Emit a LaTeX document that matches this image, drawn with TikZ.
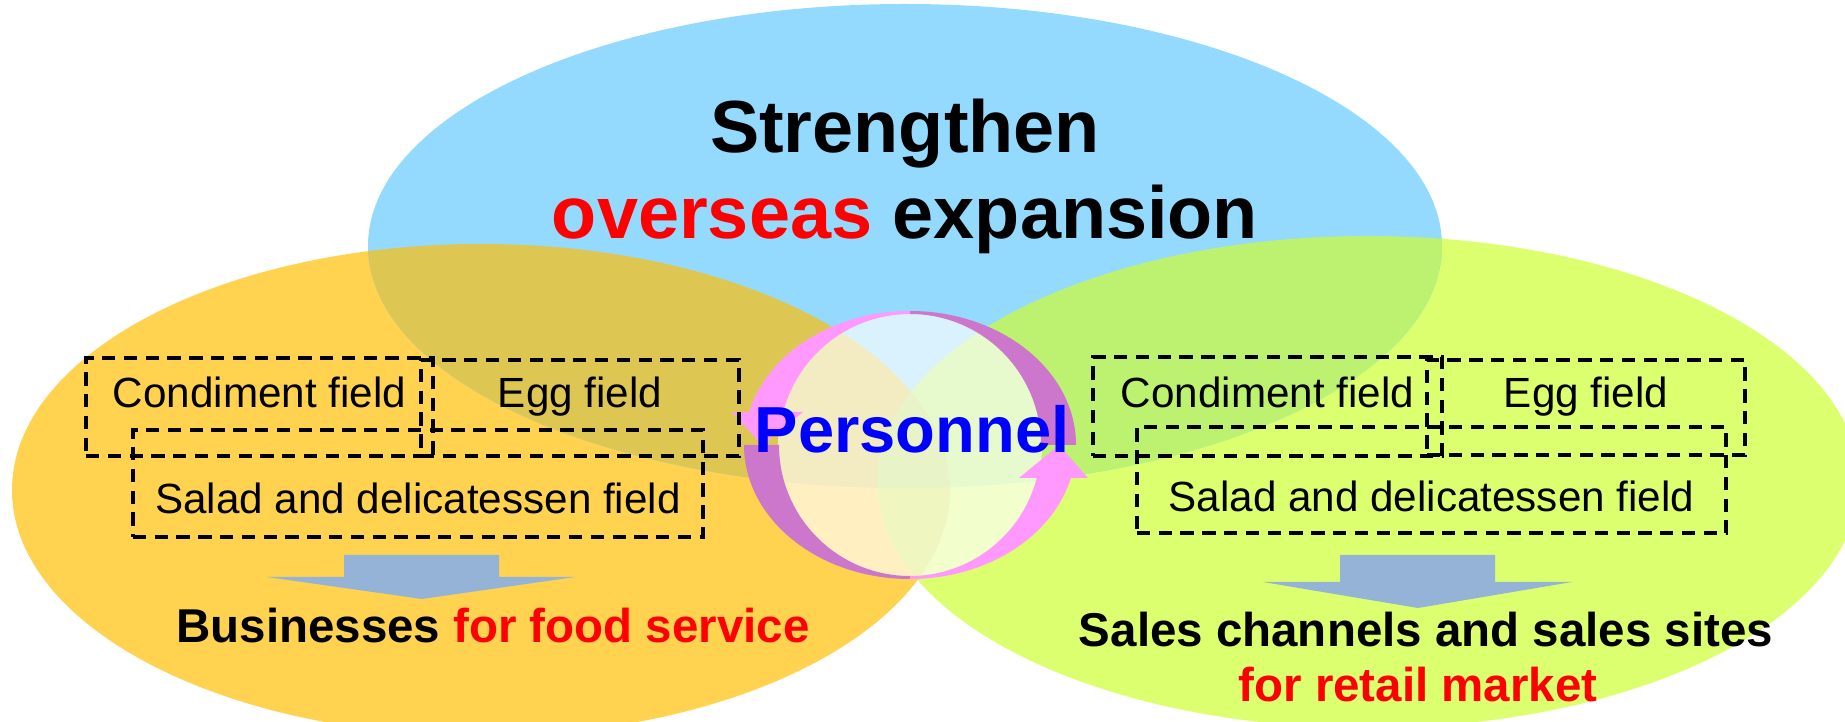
\documentclass[tikz,border=0pt]{standalone}
\usepackage{fontspec}
\setmainfont{Liberation Sans}
\usepackage{xcolor}
\usepackage{tikz}

\definecolor{globalsky}{RGB}{148,218,254}
\definecolor{foodgold}{RGB}{255,210,80}
\definecolor{retaillime}{RGB}{220,255,112}
\definecolor{skygold}{RGB}{222,198,83}
\definecolor{skylime}{RGB}{188,242,112}
\definecolor{goldlime}{RGB}{214,232,72}
\definecolor{skygoldlime}{RGB}{190,226,95}
\definecolor{arrowsteel}{RGB}{149,179,215}
\definecolor{cyclepink}{RGB}{255,153,255}
\definecolor{cycleplum}{RGB}{204,119,204}
\definecolor{personblue}{RGB}{0,0,255}

\begin{document}
\begin{tikzpicture}[
  x=0.01cm, y=0.01cm,
  fieldbox/.style={draw=black, line width=1.15pt, dash pattern=on 3.8pt off 2.4pt,
    inner sep=0pt, anchor=base, font=\fontsize{12}{14}\selectfont},
  headline/.style={anchor=base, font=\fontsize{21}{25}\selectfont\bfseries},
  market/.style={anchor=base, font=\fontsize{13.5}{16}\selectfont\bfseries},
  downarrow/.style={fill=arrowsteel}
]

  % Canvas
  \useasboundingbox (0,0) rectangle (1845,721);
  \clip (0,0) rectangle (1845,721);

  % Three ellipses: food service, retail, overseas
  \fill[foodgold] (481,231) ellipse[x radius=469, y radius=246];
  \fill[retaillime] (1368,239) ellipse[x radius=491, y radius=246];
  \fill[globalsky] (905,475) ellipse[x radius=537, y radius=242];

  % Overlapping parts
  \begin{scope}
    \clip (481,231) ellipse[x radius=469, y radius=246];
    \fill[goldlime] (1368,239) ellipse[x radius=491, y radius=246];
  \end{scope}
  \begin{scope}
    \clip (905,475) ellipse[x radius=537, y radius=242];
    \fill[skygold] (481,231) ellipse[x radius=469, y radius=246];
    \fill[skylime] (1368,239) ellipse[x radius=491, y radius=246];
    \clip (481,231) ellipse[x radius=469, y radius=246];
    \fill[skygoldlime] (1368,239) ellipse[x radius=491, y radius=246];
  \end{scope}

  % Title
  \node[headline] (strengthen) at (905,568) {Strengthen};
  \node[headline] (expansion) at (905,482) {\textcolor{red}{overseas} expansion};

  % Personnel cycle in the middle
  \coordinate (hub) at (910,276);
  \fill[white, fill opacity=0.65] (hub) circle[radius=132];
  \begin{scope}[shift={(hub)}]
    % back parts
    \fill[cycleplum] (90:166 and 134) arc[start angle=90, end angle=0, x radius=166, y radius=134]
      -- (0:131) arc[start angle=0, end angle=90, radius=131] -- cycle;
    \fill[cycleplum] (180:166 and 134) arc[start angle=180, end angle=270, x radius=166, y radius=134]
      -- (270:131) arc[start angle=270, end angle=180, radius=131] -- cycle;
    % front parts with heads
    \fill[cyclepink] (90:166 and 134) arc[start angle=90, end angle=165.74, x radius=166, y radius=134]
      -- (-178,33) -- (-148,0) -- (-107,33)
      -- (165.41:131) arc[start angle=165.41, end angle=90, radius=131] -- cycle;
    \fill[cyclepink] (270:166 and 134) arc[start angle=270, end angle=345.74, x radius=166, y radius=134]
      -- (178,-33) -- (149,0) -- (109,-33)
      -- (345.41:131) arc[start angle=345.41, end angle=270, radius=131] -- cycle;
  \end{scope}
  \node[anchor=base, text=personblue, font=\fontsize{18.5}{22}\selectfont\bfseries] (personnel) at (912,268) {Personnel};

  % Fields, food service side
  \node[fieldbox, minimum width=3.47cm, text height=14.2pt, text depth=13.7pt] (condimentL) at (259.5,313) {Condiment field};
  \node[fieldbox, minimum width=3.18cm, text height=13.66pt, text depth=13.66pt] (eggL) at (580,313) {Egg field};
  \node[fieldbox, minimum width=5.70cm, text height=23.9pt, text depth=6.5pt] (saladL) at (418,207) {Salad and delicatessen field};

  % Fields, retail side
  \node[fieldbox, minimum width=3.49cm, text height=14.5pt, text depth=13.7pt] (condimentR) at (1267.5,313) {Condiment field};
  \node[fieldbox, minimum width=3.18cm, text height=13.66pt, text depth=13.4pt] (eggR) at (1586,313) {Egg field};
  \node[fieldbox, minimum width=5.89cm, text height=24.2pt, text depth=6pt] (saladR) at (1431.5,209) {Salad and delicatessen field};

  % Block arrows down to the markets
  \fill[downarrow] (344,166) -- (499,166) -- (499,144) -- (575,144) -- (422,122) -- (267,144) -- (344,144) -- cycle;
  \fill[downarrow] (1340,166) -- (1495,166) -- (1495,139) -- (1572,139) -- (1418,113) -- (1263,139) -- (1340,139) -- cycle;

  % Markets
  \node[market] (foodservice) at (493,78) {Businesses \textcolor{red}{for food service}};
  \node[market] (channels) at (1426,74) {Sales channels and sales sites};
  \node[market, text=red] (retail) at (1418,19) {for retail market};

\end{tikzpicture}
\end{document}
